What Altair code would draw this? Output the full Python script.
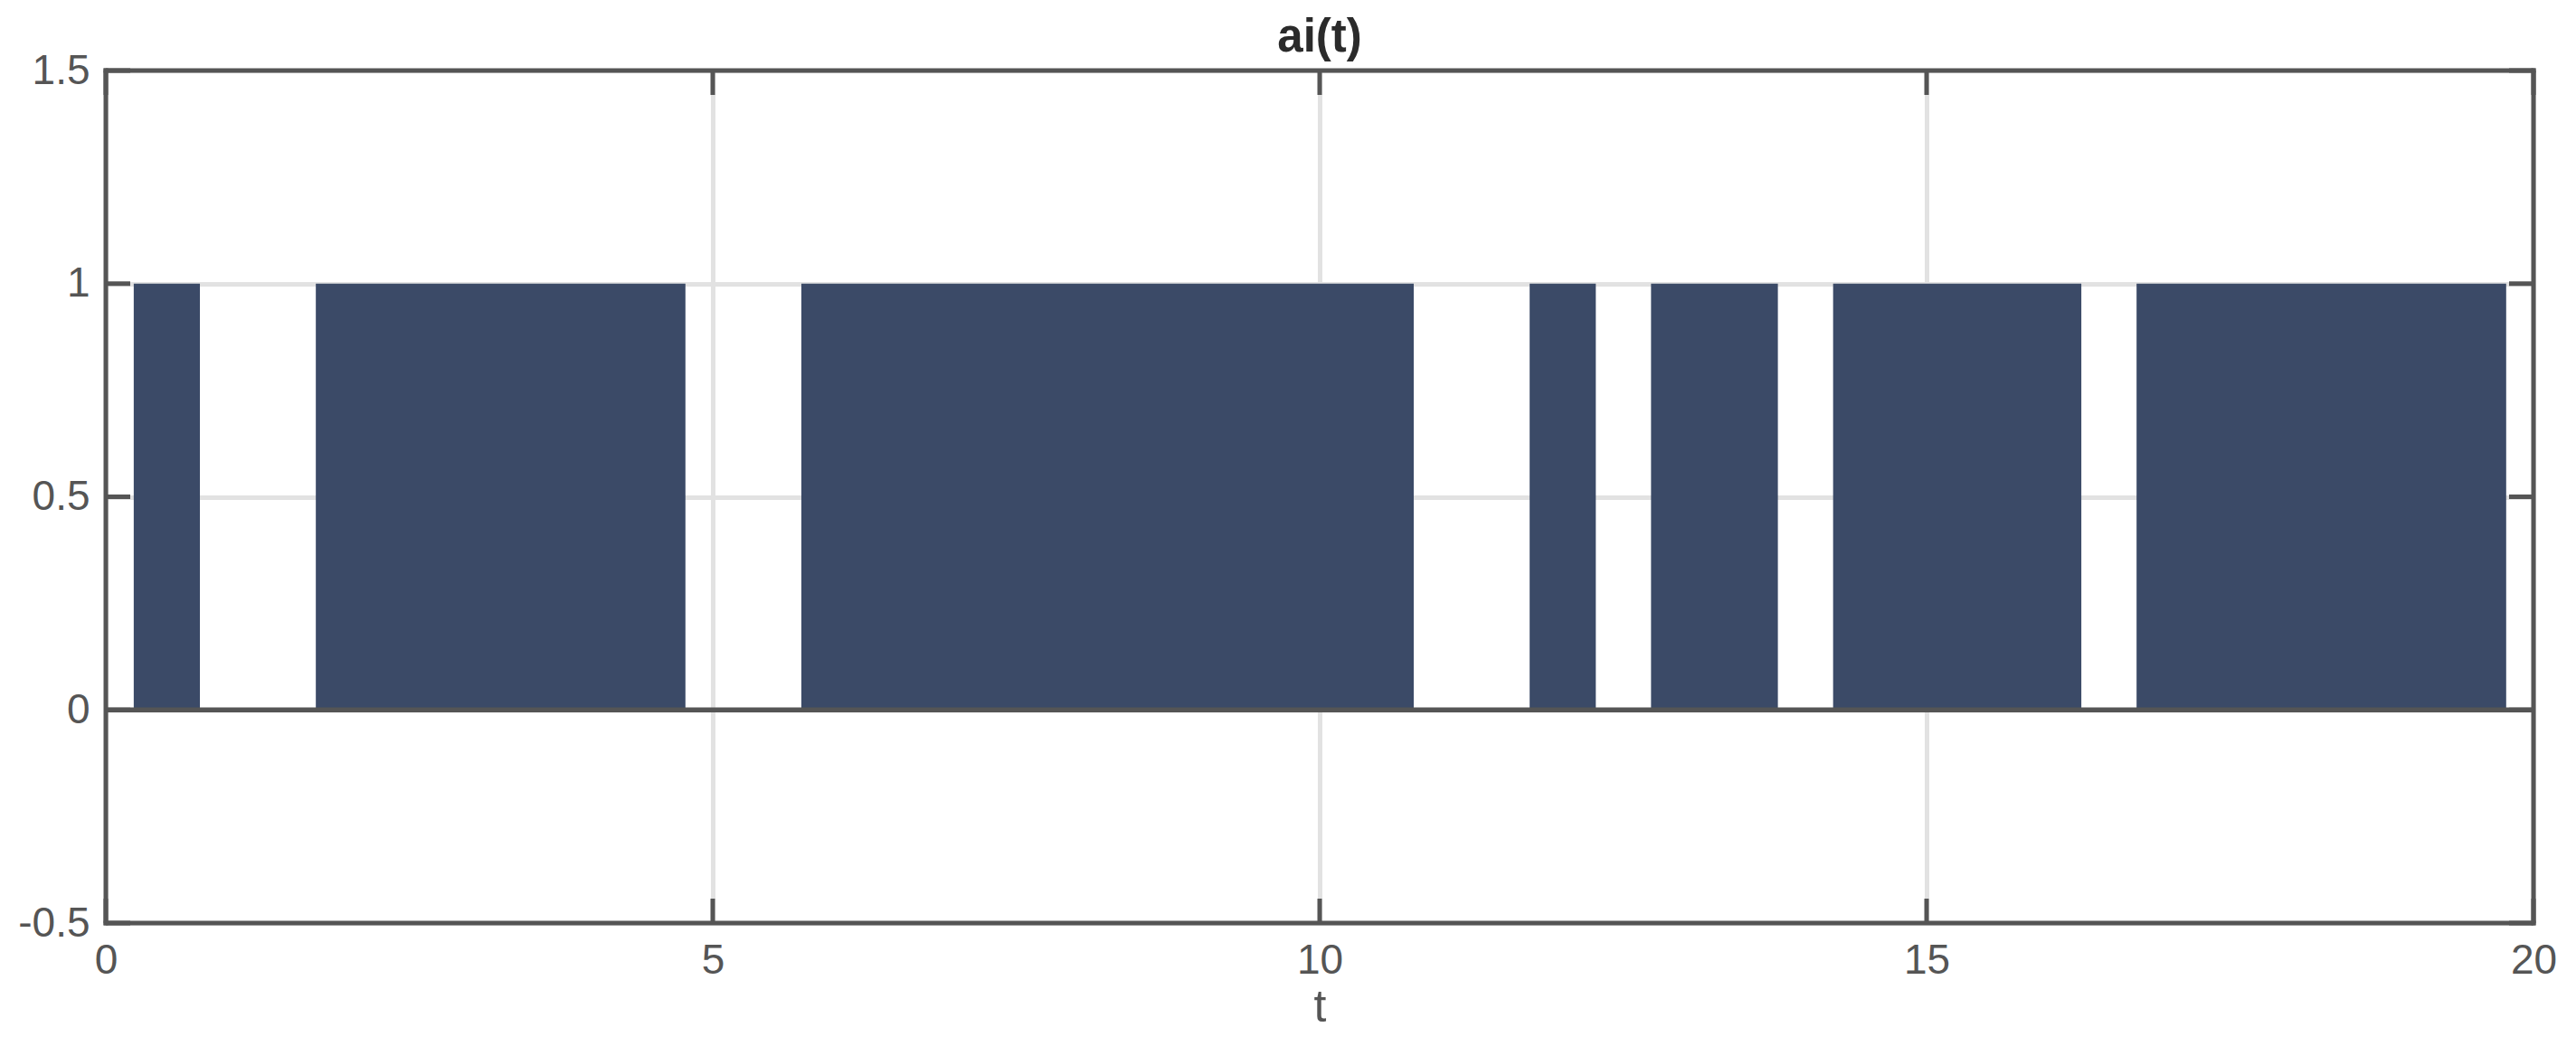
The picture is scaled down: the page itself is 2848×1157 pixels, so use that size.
import altair as alt
import pandas as pd

# ---- data ----
title_text = "ai(t)"
bar_start = [0.23, 1.73, 5.73, 11.73, 12.73, 14.23, 16.73]
bar_end = [0.775, 4.775, 10.775, 12.275, 13.775, 16.275, 19.775]
bar_value = [1, 1, 1, 1, 1, 1, 1]
x_ticks = [0, 5, 10, 15, 20]
y_ticks = [-0.5, 0, 0.5, 1, 1.5]

W, H = 2684, 943
TICK = 27
FRAME = "#555555"
FONT = "Liberation Sans"

bars_df = pd.DataFrame({"start": bar_start, "end": bar_end,
                        "base": [0] * len(bar_value), "value": bar_value})
xt_df = pd.DataFrame({"t": x_ticks})
yt_df = pd.DataFrame({"v": y_ticks})
zero_df = pd.DataFrame({"z": [0]})
title_df = pd.DataFrame({"label": [title_text]})

x_scale = alt.Scale(domain=[0, 20], nice=False, zero=False)
y_scale = alt.Scale(domain=[-0.5, 1.5], nice=False, zero=False)

xa = alt.Axis(values=x_ticks, title="t", domain=False, ticks=False, tickSize=0,
              grid=True, gridColor="#e2e2e2", gridWidth=5,
              labelFont=FONT, labelFontSize=46, labelColor=FRAME, labelPadding=19,
              labelFlush=False, labelExpr="'' + datum.value",
              titleFont=FONT, titleFontSize=50, titleFontWeight="normal",
              titleColor=FRAME, titlePadding=4)
ya = alt.Axis(values=y_ticks, title=None, domain=False, ticks=False, tickSize=0,
              grid=True, gridColor="#e2e2e2", gridWidth=5,
              labelFont=FONT, labelFontSize=46, labelColor=FRAME, labelPadding=18,
              labelFlush=False, labelExpr="'' + datum.value")

bars = alt.Chart(bars_df).mark_rect(color="#3b4a67").encode(
    x=alt.X("start:Q", scale=x_scale, axis=xa),
    x2="end:Q",
    y=alt.Y("base:Q", scale=y_scale, axis=ya),
    y2="value:Q",
)

zero = alt.Chart(zero_df).mark_rule(color=FRAME, strokeWidth=5.5).encode(
    y=alt.Y("z:Q", scale=y_scale, axis=ya)
)

tick_style = dict(color=FRAME, strokeWidth=5)
bottom_ticks = alt.Chart(xt_df).mark_rule(**tick_style).encode(
    x=alt.X("t:Q", scale=x_scale, axis=xa), y=alt.value(H), y2=alt.value(H - TICK))
top_ticks = alt.Chart(xt_df).mark_rule(**tick_style).encode(
    x=alt.X("t:Q", scale=x_scale, axis=xa), y=alt.value(0), y2=alt.value(TICK))
left_ticks = alt.Chart(yt_df).mark_rule(**tick_style).encode(
    y=alt.Y("v:Q", scale=y_scale, axis=ya), x=alt.value(0), x2=alt.value(TICK))
right_ticks = alt.Chart(yt_df).mark_rule(**tick_style).encode(
    y=alt.Y("v:Q", scale=y_scale, axis=ya), x=alt.value(W), x2=alt.value(W - TICK))

# box frame around the plot area
frame_style = dict(color=FRAME, strokeWidth=5, strokeCap="square")
frame_top = alt.Chart(zero_df).mark_rule(**frame_style).encode(
    x=alt.value(0), x2=alt.value(W), y=alt.value(0))
frame_bottom = alt.Chart(zero_df).mark_rule(**frame_style).encode(
    x=alt.value(0), x2=alt.value(W), y=alt.value(H))
frame_left = alt.Chart(zero_df).mark_rule(**frame_style).encode(
    y=alt.value(0), y2=alt.value(H), x=alt.value(0))
frame_right = alt.Chart(zero_df).mark_rule(**frame_style).encode(
    y=alt.value(0), y2=alt.value(H), x=alt.value(W))

title = alt.Chart(title_df).mark_text(
    font=FONT, fontSize=51, fontWeight="bold", color="#2b2b2b",
    align="center", baseline="alphabetic"
).encode(text="label:N", x=alt.value(W / 2), y=alt.value(-21))

chart = alt.layer(bars, zero, bottom_ticks, top_ticks, left_ticks, right_ticks,
                  frame_top, frame_bottom, frame_left, frame_right, title).properties(
    width=W, height=H,
    autosize=alt.AutoSizeParams(type="none"),
    padding={"left": 109, "top": 70, "right": 35, "bottom": 120},
).configure_view(stroke=None)

chart.save("out.html", embed_options={"renderer": "svg", "actions": False})
